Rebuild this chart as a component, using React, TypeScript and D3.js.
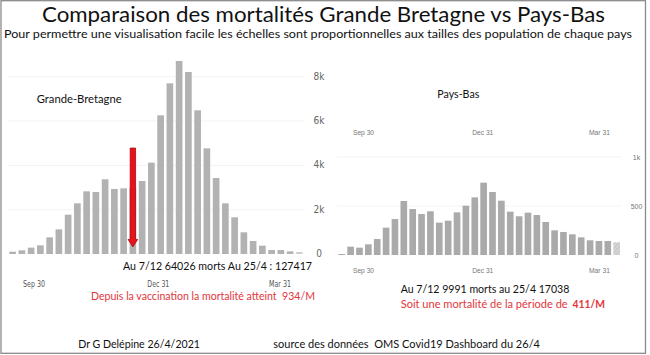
import React from "react";
import * as d3 from "d3";

// Weekly categories (bar centres)
const weeks = [
  "2020-09-14", "2020-09-21", "2020-09-28", "2020-10-05", "2020-10-12", "2020-10-19",
  "2020-10-26", "2020-11-02", "2020-11-09", "2020-11-16", "2020-11-23", "2020-11-30",
  "2020-12-07", "2020-12-14", "2020-12-21", "2020-12-28", "2021-01-04", "2021-01-11",
  "2021-01-18", "2021-01-25", "2021-02-01", "2021-02-08", "2021-02-15", "2021-02-22",
  "2021-03-01", "2021-03-08", "2021-03-15", "2021-03-22", "2021-03-29", "2021-04-05",
  "2021-04-12", "2021-04-19",
];

// Weekly deaths, Great Britain
const gbDeaths = [
  105, 166, 286, 391, 752, 1113, 1775, 2286, 2828, 2798, 3370, 2933, 2963, 3000, 3294, 4121,
  6258, 7701, 8709, 8213, 6483, 4768, 3430, 2286, 1655, 978, 587, 376, 180, 180, 120, 90,
];

// Weekly deaths, Netherlands
const nlDeaths = [
  10, 85, 75, 109, 163, 279, 367, 551, 469, 418, 446, 330, 350, 435, 503, 588,
  738, 643, 554, 442, 395, 432, 408, 337, 252, 235, 211, 180, 150, 143, 143, 129,
];

const tickDates = ["2020-09-30", "2020-12-31", "2021-03-31"];
const tickLabels = ["Sep 30", "Dec 31", "Mar 31"];
const gbYTicks = [0, 2000, 4000, 6000, 8000];
const gbYLabels = ["0", "2k", "4k", "6k", "8k"];
const nlYTicks = [0, 500, 1000];
const nlYLabels = ["0", "500", "1k"];

// Arrow annotation (week index, from value, to value)
const arrowWeek = 13;
const arrowFrom = 4780;
const arrowTo = 320;

const parse = d3.timeParse("%Y-%m-%d");

const CAL = "Lato, 'Open Sans', sans-serif";
const NARROW = "'Liberation Sans Narrow', 'DejaVu Sans Condensed', 'Arial Narrow', sans-serif";
const ARIAL = "'Liberation Sans', Arial, sans-serif";
const RED = "#e2353b";

export default function App() {
  // Left chart scales
  const gbX = d3.scaleBand<string>().domain(weeks).range([8.0, 304.0]).paddingInner(0.28).paddingOuter(0.14);
  const gbY = d3.scaleLinear().domain([0, 8000]).range([254, 76.7]);
  const gbT = d3.scaleTime().domain([parse(tickDates[0])!, parse(tickDates[2])!]).range([34, 280]);

  // Right chart scales
  const nlX = d3.scaleBand<string>().domain(weeks).range([337.3, 621.1]).paddingInner(0.25).paddingOuter(0.125);
  const nlY = d3.scaleLinear().domain([0, 1000]).range([255, 157]);
  const nlT = d3.scaleTime().domain([parse(tickDates[0])!, parse(tickDates[2])!]).range([363.5, 599.5]);

  const last = weeks.length - 1;

  const ax = (gbX(weeks[arrowWeek]) ?? 0) + gbX.bandwidth() / 2;
  const aTop = gbY(arrowFrom);
  const aTip = gbY(arrowTo);
  const aHead = aTip - 7.5;
  const arrowPath = `M${ax - 2.7},${aTop} L${ax + 2.7},${aTop} L${ax + 2.7},${aHead} L${ax + 4.8},${aHead} L${ax},${aTip} L${ax - 4.8},${aHead} L${ax - 2.7},${aHead} Z`;

  return (
    <svg width={650} height={355} style={{ position: "absolute", left: 0, top: 0, background: "#fff" }}>
      <defs>
        <pattern id="hatch" patternUnits="userSpaceOnUse" width={3} height={3} patternTransform="rotate(45)">
          <rect width={3} height={3} fill="#d6d6d6" />
          <line x1={0} y1={0} x2={0} y2={3} stroke="#b5b5b5" strokeWidth={1.2} />
        </pattern>
      </defs>
      <rect x={0} y={0} width={650} height={355} fill="#fff" />
      <rect x={1} y={0.7} width={644.5} height={352.6} fill="none" stroke="#8a8a8a" strokeWidth={1.3} />

      {/* Titles */}
      <text x={42} y={22} fontFamily={CAL} fontSize={21} fill="#111" textLength={563} lengthAdjust="spacingAndGlyphs">
        Comparaison des mortalités Grande Bretagne vs Pays-Bas
      </text>
      <text x={4} y={37.5} fontFamily={CAL} fontSize={11.5} fill="#111" textLength={628} lengthAdjust="spacingAndGlyphs">
        Pour permettre une visualisation facile les échelles sont proportionnelles aux tailles des population de chaque pays
      </text>

      {/* Faint gridlines */}
      {gbYTicks.slice(1).map((t) => (
        <line key={"gg" + t} x1={8} x2={305} y1={gbY(t)} y2={gbY(t)} stroke="#f3f3f3" strokeWidth={1} />
      ))}
      {nlYTicks.slice(1).map((t) => (
        <line key={"ng" + t} x1={337} x2={622} y1={nlY(t)} y2={nlY(t)} stroke="#f3f3f3" strokeWidth={1} />
      ))}

      {/* Left bars */}
      {gbDeaths.map((v, i) => (
        <rect
          key={"gb" + i}
          x={gbX(weeks[i])}
          y={gbY(v)}
          width={gbX.bandwidth()}
          height={gbY(0) - gbY(v)}
          fill={i === last ? "url(#hatch)" : "#b2b2b2"}
        />
      ))}

      {/* Right bars */}
      {nlDeaths.map((v, i) => (
        <rect
          key={"nl" + i}
          x={nlX(weeks[i])}
          y={nlY(v)}
          width={nlX.bandwidth()}
          height={Math.max(1, nlY(0) - nlY(v))}
          fill={i === last ? "url(#hatch)" : "#aaaaaa"}
        />
      ))}

      {/* Arrow */}
      <path d={arrowPath} fill="#e8121b" stroke="#a30d12" strokeWidth={0.8} />

      {/* Left y labels */}
      {gbYTicks.map((t, i) => (
        <text key={"gy" + t} x={319} y={gbY(t) + 3} textAnchor="middle" fontFamily={NARROW} fontSize={10} fill="#666">
          {gbYLabels[i]}
        </text>
      ))}
      {/* Left x labels */}
      {tickDates.map((d, i) => (
        <text key={"gx" + d} x={gbT(parse(d)!)} y={286.5} textAnchor="middle" fontFamily={NARROW} fontSize={9.5} fill="#555" textLength={22} lengthAdjust="spacingAndGlyphs">
          {tickLabels[i]}
        </text>
      ))}

      {/* Right y labels */}
      {nlYTicks.map((t, i) => (
        <text key={"ny" + t} x={636.5} y={nlY(t) + 2.5} textAnchor="middle" fontFamily={ARIAL} fontSize={7} fill="#777">
          {nlYLabels[i]}
        </text>
      ))}
      {/* Right x labels top and bottom */}
      {tickDates.map((d, i) => (
        <text key={"nxt" + d} x={nlT(parse(d)!)} y={134.5} textAnchor="middle" fontFamily={ARIAL} fontSize={7} fill="#777" textLength={21} lengthAdjust="spacingAndGlyphs">
          {tickLabels[i]}
        </text>
      ))}
      {tickDates.map((d, i) => (
        <text key={"nxb" + d} x={nlT(parse(d)!)} y={272.5} textAnchor="middle" fontFamily={ARIAL} fontSize={7} fill="#777" textLength={21} lengthAdjust="spacingAndGlyphs">
          {tickLabels[i]}
        </text>
      ))}

      {/* Chart titles */}
      <text x={36.7} y={102.5} fontFamily={CAL} fontSize={12} fill="#111" textLength={85} lengthAdjust="spacingAndGlyphs">
        Grande-Bretagne
      </text>
      <text x={437.3} y={98} fontFamily={CAL} fontSize={12} fill="#111" textLength={42} lengthAdjust="spacingAndGlyphs">
        Pays-Bas
      </text>

      {/* Annotations */}
      <text x={123} y={269.5} fontFamily={CAL} fontSize={12} fill="#111" textLength={189} lengthAdjust="spacingAndGlyphs">
        Au 7/12 64026 morts Au 25/4 : 127417
      </text>
      <text x={91} y={300} fontFamily={CAL} fontSize={12} fill={RED} textLength={224} lengthAdjust="spacingAndGlyphs" style={{ whiteSpace: "pre" }}>
        {"Depuis la vaccination la mortalité atteint  934/M"}
      </text>
      <text x={400.7} y={292.5} fontFamily={CAL} fontSize={11.5} fill="#111" textLength={168.7} lengthAdjust="spacingAndGlyphs">
        Au 7/12 9991 morts au 25/4 17038
      </text>
      <text x={400.7} y={307.5} fontFamily={CAL} fontSize={11.5} fill={RED} style={{ whiteSpace: "pre" }}>
        <tspan textLength={167} lengthAdjust="spacingAndGlyphs">Soit une mortalité de la période de</tspan>
        <tspan x={572.5} fontWeight="bold" textLength={32.5} lengthAdjust="spacingAndGlyphs">411/M</tspan>
      </text>

      {/* Footer */}
      <text x={78.3} y={347.5} fontFamily={CAL} fontSize={12} fill="#111" textLength={121.7} lengthAdjust="spacingAndGlyphs">
        Dr G Delépine 26/4/2021
      </text>
      <text x={273.3} y={347.5} fontFamily={CAL} fontSize={12} fill="#111" textLength={266.7} lengthAdjust="spacingAndGlyphs" style={{ whiteSpace: "pre" }}>
        {"source des données  OMS Covid19 Dashboard du 26/4"}
      </text>
    </svg>
  );
}
